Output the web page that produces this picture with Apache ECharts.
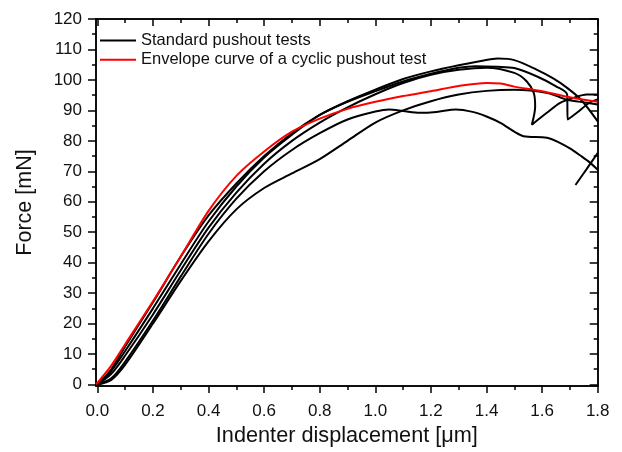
<!DOCTYPE html>
<html>
<head>
<meta charset="utf-8">
<script src="https://cdn.jsdelivr.net/npm/echarts@6/dist/echarts.min.js"></script>
<style>
html,body{margin:0;padding:0;background:#fff;}
#c{width:622px;height:452px;}
</style>
</head>
<body>
<div id="c"></div>
<script>
// ---- data (displacement [µm], force [mN]) ----
const testA = [[0,0],[0.05,5],[0.1,12.5],[0.2,27],[0.3,42],[0.4,55.5],[0.5,66],[0.6,75],[0.7,82.5],[0.8,88.5],[0.9,93],[1.0,96.8],[1.1,100.3],[1.2,102.8],[1.3,104.8],[1.38,106.2],[1.44,107],[1.5,106.5],[1.58,103.4],[1.64,100.5],[1.69,97.4],[1.74,93.5],[1.8,86.4]];
const testB = [[0,0],[0.05,4.5],[0.1,11],[0.2,25],[0.3,39.5],[0.4,53.5],[0.5,65],[0.6,74.5],[0.7,82],[0.8,88.5],[0.9,92.8],[1.0,96.3],[1.1,99.5],[1.2,102],[1.3,104],[1.36,104.5],[1.44,104.3],[1.5,103.9],[1.58,101.2],[1.65,97.9],[1.69,95.2],[1.692,87],[1.725,89.2],[1.77,92.5],[1.8,93.6]];
const testC = [[0,0],[0.05,3.5],[0.1,9.5],[0.2,23],[0.3,37.5],[0.4,51.5],[0.5,63],[0.6,72.5],[0.7,80],[0.8,86],[0.9,91],[1.0,95.3],[1.1,99],[1.2,101.7],[1.3,103.3],[1.4,104],[1.5,102.3],[1.545,99.5],[1.57,95.7],[1.575,91.3],[1.563,85.3],[1.617,89.2],[1.665,92.5],[1.713,94.1],[1.76,95.2],[1.8,95.2]];
const testD = [[0,0],[0.05,1.5],[0.1,6.5],[0.2,20],[0.3,34],[0.4,47],[0.5,57.5],[0.6,64.5],[0.7,69.3],[0.8,74],[0.9,80],[1.0,86],[1.1,90],[1.2,93],[1.3,95.2],[1.4,96.4],[1.5,96.8],[1.62,95.7],[1.69,93.5],[1.76,92.5],[1.8,91.9]];
const testE = [[0,0],[0.05,2],[0.1,7.5],[0.2,21],[0.3,35.5],[0.4,49.5],[0.5,61],[0.6,70],[0.7,77],[0.8,82.5],[0.9,87],[1.0,89.6],[1.05,90.3],[1.1,89.8],[1.16,89.2],[1.22,89.5],[1.29,90.3],[1.35,89.5],[1.4,88],[1.45,85.9],[1.5,83],[1.533,81.5],[1.617,81],[1.66,79.5],[1.7,77.5],[1.74,75],[1.77,73],[1.8,70.5]];
const testE2 = [[1.72,65.5],[1.76,70.7],[1.8,76]];
const envelope = [[-0.005,0],[0.05,6.2],[0.1,13.2],[0.2,27.3],[0.3,42],[0.4,57],[0.5,68.5],[0.6,76.5],[0.7,83],[0.8,87.3],[0.9,90.5],[1.0,92.8],[1.1,94.7],[1.2,96.3],[1.3,98],[1.4,99],[1.45,98.8],[1.5,97.8],[1.6,96.3],[1.7,94.3],[1.8,92.8]];

const xMajor = [0,0.2,0.4,0.6,0.8,1.0,1.2,1.4,1.6,1.8];
const xMinor = [0.1,0.3,0.5,0.7,0.9,1.1,1.3,1.5,1.7];
const yMajor = [0,10,20,30,40,50,60,70,80,90,100,110,120];
const yMinor = [5,15,25,35,45,55,65,75,85,95,105,115];

const names = ['Standard pushout tests','Envelope curve of a cyclic pushout test'];
const xRange = [-0.005, 1.8];
const yRange = [-0.5, 120];

const FONT = 'Liberation Sans';
const lineW = 1.5;

function mkAxis(kind, pos, ticks, len, inside, labels, extra) {
  const r = kind === 'x' ? xRange : yRange;
  const a = {
    type: 'value', position: pos, min: r[0], max: r[1],
    axisLine: {show: true, onZero: false, lineStyle: {color: '#000', width: lineW}},
    axisTick: {show: true, customValues: ticks, length: len, inside: inside,
               lineStyle: {color: '#000', width: lineW}},
    axisLabel: {show: !!labels, customValues: ticks, color: '#111',
                fontFamily: FONT, fontSize: 17,
                margin: kind === 'x' ? 17 : 14,
                formatter: kind === 'x' ? (v => v.toFixed(1)) : (v => String(Math.round(v)))},
    splitLine: {show: false},
    minorTick: {show: false}
  };
  return Object.assign(a, extra || {});
}

const xAxes = [
  mkAxis('x','bottom', xMajor, 7, false, true, {
    name: 'Indenter displacement [\u03bcm]', nameLocation: 'middle', nameGap: 39,
    nameTextStyle: {fontFamily: FONT, fontSize: 21.7, color: '#111'}
  }),
  mkAxis('x','bottom', xMinor, 4, false, false),
  mkAxis('x','top', xMajor, 7, true, false),
  mkAxis('x','top', xMinor, 4, true, false)
];
const yAxes = [
  mkAxis('y','left', yMajor, 8, false, true, {
    name: 'Force [mN]', nameLocation: 'middle', nameGap: 60, nameRotate: 90,
    nameTextStyle: {fontFamily: FONT, fontSize: 21.5, color: '#111'}
  }),
  mkAxis('y','left', yMinor, 4, false, false),
  mkAxis('y','right', yMajor, 8, true, false),
  mkAxis('y','right', yMinor, 4, true, false)
];

function blk(d) {
  return {type: 'line', name: names[0], data: d, xAxisIndex: 0, yAxisIndex: 0,
          showSymbol: false, symbol: 'none', smooth: 0.3,
          lineStyle: {color: '#000', width: 2}, itemStyle: {color: '#000'},
          silent: true, z: 2, animation: false};
}

const series = [testA, testB, testC, testD, testE, testE2].map(blk);
series.push({type: 'line', name: names[1], data: envelope, xAxisIndex: 0, yAxisIndex: 0,
  showSymbol: false, symbol: 'none', smooth: 0.3,
  lineStyle: {color: '#ff0000', width: 2}, itemStyle: {color: '#ff0000'},
  silent: true, z: 3, animation: false});

const chart = echarts.init(document.getElementById('c'), null, {renderer: 'canvas'});
chart.setOption({
  animation: false,
  backgroundColor: '#fff',
  grid: {left: 96, top: 19, width: 501.7, height: 367.7, containLabel: false},
  legend: {
    data: names, orient: 'vertical', left: 100, top: 32, padding: 0,
    itemWidth: 36, itemHeight: 2, itemGap: 2.3, icon: 'rect',
    textStyle: {fontFamily: FONT, fontSize: 16.5, color: '#111', padding: [0,0,0,0]},
    selectedMode: false
  },
  xAxis: xAxes,
  yAxis: yAxes,
  series: series
});
</script>
</body>
</html>
